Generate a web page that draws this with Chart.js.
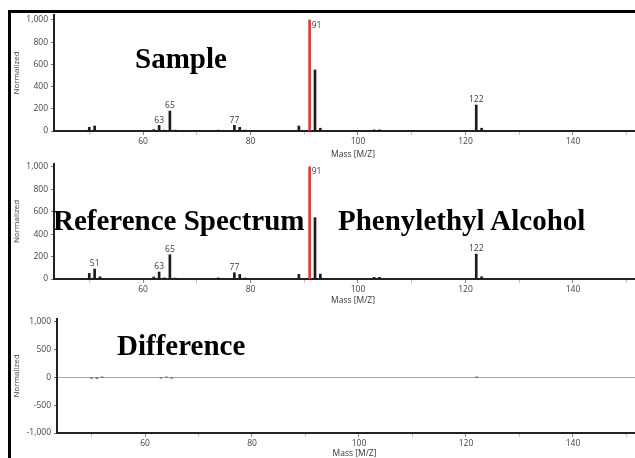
<!DOCTYPE html>
<html>
<head>
<meta charset="utf-8">
<script src="https://cdn.jsdelivr.net/npm/chart.js@4.4.0/dist/chart.umd.min.js"></script>
<style>
  html, body { margin: 0; padding: 0; background: #fff; width: 635px; height: 458px; overflow: hidden; }
  #frame { position: absolute; left: 8px; top: 10px; width: 700px; height: 500px;
           border-left: 3px solid #000; border-top: 3px solid #000; }
  canvas { position: absolute; left: 12px; }
  .big { position: absolute; font: bold 29px "Liberation Serif", "Times New Roman", serif;
         line-height: 29px; color: #000; white-space: nowrap; }
</style>
</head>
<body>
<div id="frame"></div>
<canvas id="sampleChart" width="640" height="148" style="top:13px"></canvas>
<canvas id="refChart" width="640" height="146" style="top:161px"></canvas>
<canvas id="diffChart" width="640" height="153" style="top:307px"></canvas>
<div class="big" style="left:135px;top:44px">Sample</div>
<div class="big" style="left:53px;top:206px">Reference Spectrum</div>
<div class="big" style="left:338px;top:206px">Phenylethyl Alcohol</div>
<div class="big" style="left:117px;top:331px">Difference</div>

<script>
// ---- spectrum data (m/z, normalized intensity) ----
const basePeak = 91;
const basePeakValue = 1000;

const sampleMz  = [50, 51, 52, 62, 63, 64, 65, 66, 74, 77, 78, 79, 89, 92, 93, 103, 104, 122, 123];
const sampleInt = [33, 45, 6, 12, 50, 8, 180, 8, 8, 51, 33, 8, 45, 550, 25, 10, 10, 234, 25];
const sampleLabels = [63, 65, 77, 91, 122];

const refMz  = [50, 51, 52, 62, 63, 64, 65, 66, 74, 77, 78, 79, 89, 92, 93, 103, 104, 122, 123];
const refInt = [50, 89, 20, 18, 62, 10, 216, 8, 10, 56, 41, 8, 41, 547, 44, 15, 15, 222, 20];
const refLabels = [51, 63, 65, 77, 91, 122];

const diffMz  = [50, 51, 52, 63, 64, 65, 122];
const diffInt = [-12, -15, 8, -10, 8, -12, 6];

const xTicks = [50, 60, 70, 80, 90, 100, 110, 120, 130, 140, 150];
const yTicksSpectrum = [0, 200, 400, 600, 800, 1000];
const yTicksDiff = [-1000, -500, 0, 500, 1000];

Chart.defaults.font.family = '"Open Sans", "Liberation Sans", sans-serif';

const toPoints = (xs, ys) => xs.map((x, i) => ({ x: x, y: ys[i] }));

// peak annotations: m/z number above each labelled line, base peak label beside its top
const peakLabelPlugin = {
  id: 'peakLabels',
  afterDatasetsDraw(chart, args, opts) {
    if (!opts.marks) return;
    const ctx = chart.ctx;
    ctx.save();
    ctx.font = '8.5px "Open Sans", sans-serif';
    ctx.fillStyle = '#3a3a3a';
    chart.data.datasets.forEach((ds, di) => {
      const meta = chart.getDatasetMeta(di);
      ds.data.forEach((pt, i) => {
        if (!opts.marks.includes(pt.x)) return;
        const el = meta.data[i];
        if (ds.isBase) {
          ctx.textAlign = 'left';
          ctx.textBaseline = 'top';
          ctx.fillText(String(pt.x), el.x + 2, el.y + 1);
        } else {
          ctx.textAlign = 'center';
          ctx.textBaseline = 'bottom';
          ctx.fillText(String(pt.x), el.x, el.y - 1);
        }
      });
    });
    ctx.restore();
  }
};

function xScale(min, max, height) {
  return {
    type: 'linear', min: min, max: max, offset: false,
    afterBuildTicks: s => { s.ticks = xTicks.map(v => ({ value: v })); },
    afterFit: s => { s.height = height; s.paddingLeft = 0; s.paddingRight = 0; },
    ticks: {
      autoSkip: false, maxRotation: 0, padding: 1, color: '#444',
      font: { size: 8.5 },
      callback: v => (v % 20 === 0 ? String(v) : '')
    },
    grid: {
      display: true, drawOnChartArea: false, offset: false, tickLength: 4,
      tickColor: c => (c.tick && c.tick.value % 20 === 0 ? '#888' : '#c4c4c4')
    },
    border: { color: '#222', width: 2 },
    title: {
      display: true, text: 'Mass [M/Z]', color: '#333',
      font: { size: 8.5 }, padding: { top: 0, bottom: 1 }
    }
  };
}

function yScale(min, max, ticks, width, zeroLine) {
  return {
    type: 'linear', min: min, max: max,
    afterBuildTicks: s => { s.ticks = ticks.map(v => ({ value: v })); },
    afterFit: s => { s.width = width; s.paddingTop = 0; s.paddingBottom = 0; },
    ticks: {
      padding: 3, color: '#444', font: { size: 8.5 },
      callback: v => Number(v).toLocaleString('en-US')
    },
    grid: {
      display: true, drawOnChartArea: !!zeroLine, tickLength: 3,
      color: c => (zeroLine && c.tick && c.tick.value === 0 ? '#a8a8a8' : 'rgba(0,0,0,0)'),
      lineWidth: 1,
      tickColor: '#777'
    },
    border: { color: '#222', width: 2 },
    title: {
      display: true, text: 'Normalized', color: '#444',
      font: { size: 8 }, padding: { top: 0, bottom: 0 }
    }
  };
}

function spectrumChart(id, mz, intensity, labels, yMax, padTop, xMin, xMax, xHeight, yWidth) {
  return new Chart(document.getElementById(id), {
    type: 'bar',
    data: {
      datasets: [
        {
          data: toPoints(mz, intensity),
          backgroundColor: '#1c1c1c', borderWidth: 0, barThickness: 2
        },
        {
          isBase: true,
          data: [{ x: basePeak, y: basePeakValue }],
          backgroundColor: '#dc3a3a', borderWidth: 0, barThickness: 2
        }
      ]
    },
    options: {
      responsive: false, animation: false, events: [],
      layout: { padding: { top: padTop, left: 0, right: 0, bottom: 0 } },
      datasets: { bar: { grouped: false } },
      plugins: { legend: { display: false }, tooltip: { enabled: false }, peakLabels: { marks: labels } },
      scales: {
        x: xScale(xMin, xMax, xHeight),
        y: yScale(0, yMax, yTicksSpectrum, yWidth, false)
      }
    },
    plugins: [peakLabelPlugin]
  });
}

spectrumChart('sampleChart', sampleMz, sampleInt, sampleLabels, 1045, 2, 43.44, 154.7, 30, 42);
spectrumChart('refChart', refMz, refInt, refLabels, 1025, 3, 43.44, 154.7, 28, 42);

new Chart(document.getElementById('diffChart'), {
  type: 'bar',
  data: {
    datasets: [{
      data: toPoints(diffMz, diffInt),
      backgroundColor: '#333', borderWidth: 0, barThickness: 2
    }]
  },
  options: {
    responsive: false, animation: false, events: [],
    layout: { padding: { top: 12, left: 0, right: 0, bottom: 0 } },
    plugins: { legend: { display: false }, tooltip: { enabled: false } },
    scales: {
      x: xScale(43.55, 154.77, 27),
      y: yScale(-1000, 1054, yTicksDiff, 45, true)
    }
  }
});
</script>
</body>
</html>
